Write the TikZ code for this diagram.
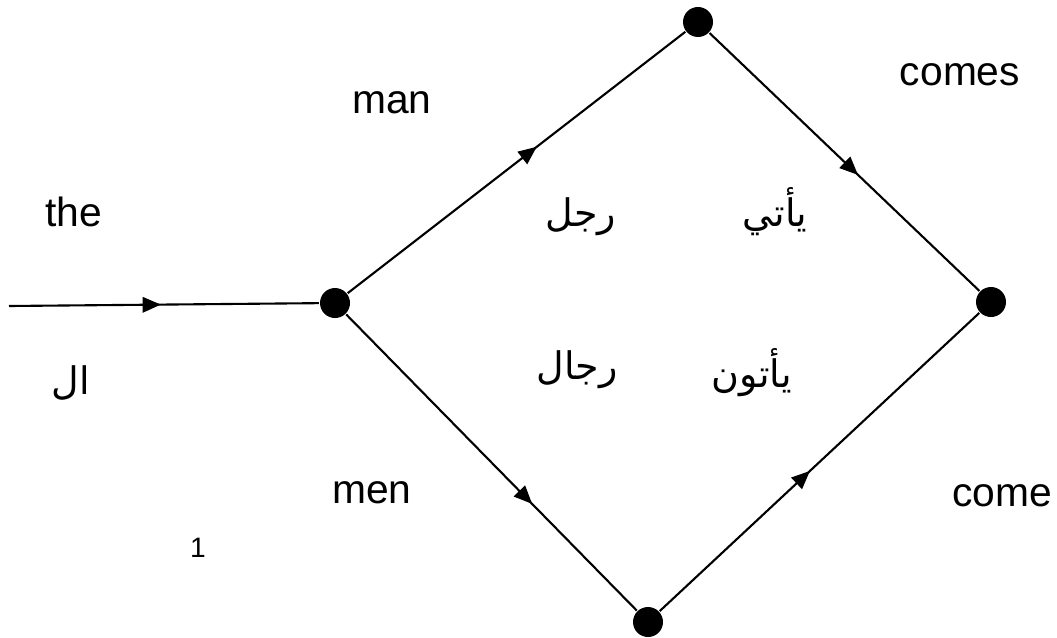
\documentclass[tikz,border=0pt]{standalone}
\usepackage{fontspec}
\setmainfont{Liberation Sans}
\newfontfamily\arabicfont[Script=Arabic]{DejaVu Sans}
\TeXXeTstate=1
\usepackage{tikz}
\usetikzlibrary{arrows.meta, decorations.markings}

\tikzset{
  state/.style={circle, fill=black, inner sep=0pt, minimum size=0.75cm},
  word/.style={font=\fontsize{29}{34}\selectfont, inner sep=0pt},
  arword/.style={font=\arabicfont\fontsize{27}{32}\selectfont, inner sep=0pt},
  midarrow/.style={postaction={decorate, decoration={markings,
    mark=at position #1 with {\arrow{Triangle[length=13pt, width=11pt]}}}}}
}

\begin{document}
\begin{tikzpicture}[x=0.025cm, y=-0.025cm, line width=1.5pt]
    \useasboundingbox (0,0) rectangle (1057,637);
    % states
    \node[state] (l) at (335,303) {};
    \node[state] (t) at (698,22) {};
    \node[state] (r) at (991,302) {};
    \node[state] (b) at (648,622) {};
    \coordinate (in) at (9,306);
    % transitions
    \draw[midarrow=0.49] (in) -- (l);
    \draw[midarrow=0.56] (l) -- (t);
    \draw[midarrow=0.55] (t) -- (r);
    \draw[midarrow=0.64] (l) -- (b);
    \draw[midarrow=0.47] (b) -- (r);
    % english words
    \node[word] (the) at (74,212) {the};
    \node[word] (man) at (392,103) {man};
    \node[word] (comes) at (960,75) {comes};
    \node[word] (men) at (372,493) {men};
    \node[word] (come) at (1002,496) {come};
    \node[font=\fontsize{20}{24}\selectfont, inner sep=0pt] (page) at (198,548) {1};
    % arabic words
    \node[arword] (al) at (71,383) {\beginR ال\endR};
    \node[arword] (rajul) at (581,217) {\beginR رجل\endR};
    \node[arword] (yati) at (775,212) {\beginR يأتي\endR};
    \node[arword] (rijal) at (577,370) {\beginR رجال\endR};
    \node[arword] (yatun) at (752,373) {\beginR يأتون\endR};
\end{tikzpicture}
\end{document}
